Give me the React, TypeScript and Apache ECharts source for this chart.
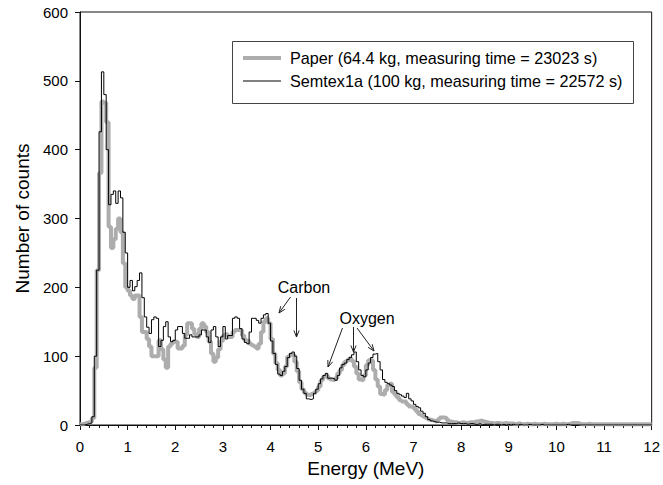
import React, { useEffect, useRef } from "react";
import * as echarts from "echarts";

// Energy spectrum, histogram bins of 0.05 MeV starting at 0 MeV
const binWidth = 0.05;
const xTicks = [0, 1, 2, 3, 4, 5, 6, 7, 8, 9, 10, 11, 12];
const yTicks = [0, 100, 200, 300, 400, 500, 600];

const paperCounts = [
  1, 2, 3, 4, 5, 10, 83, 225, 366, 470,
  468, 440, 288, 257, 270, 285, 300, 280, 235, 200,
  195, 188, 183, 188, 188, 157, 135, 135, 125, 114,
  100, 100, 100, 123, 110, 95, 83, 114, 118, 121,
  121, 111, 111, 115, 131, 148, 148, 140, 132, 128,
  140, 148, 143, 135, 121, 104, 92, 98, 110, 122,
  130, 132, 128, 128, 135, 138, 138, 138, 130, 123,
  122, 118, 116, 114, 111, 118, 135, 150, 155, 148,
  125, 104, 90, 80, 72, 75, 85, 99, 102, 102,
  92, 78, 62, 52, 47, 44, 43, 45, 47, 50,
  56, 65, 70, 72, 68, 66, 65, 68, 75, 80,
  87, 92, 94, 97, 93, 85, 75, 66, 65, 72,
  87, 94, 94, 80, 66, 56, 45, 44, 51, 58,
  60, 48, 44, 40, 36, 34, 34, 30, 27, 26,
  24, 20, 16, 14, 12, 10, 8, 7, 6, 5,
  8, 11, 11, 10, 7, 5, 4, 4, 3, 3,
  4, 3, 3, 4, 4, 3, 5, 6, 6, 5,
  4, 3, 3, 2, 3, 3, 2, 2, 3, 2,
  2, 2, 1, 2, 2, 1, 1, 2, 1, 1,
  2, 1, 1, 1, 2, 1, 1, 1, 1, 2,
  1, 1, 2, 1, 1, 2, 3, 3, 3, 2,
  1, 1, 1, 2, 1, 1, 1, 1, 1, 1,
  1, 1, 1, 1, 1, 1, 1, 1, 1, 1,
  1, 1, 1, 1, 1, 1, 1, 1, 1, 1,
];

const semtexCounts = [
  0, 0, 1, 2, 3, 12, 100, 225, 426, 513,
  480, 400, 320, 335, 340, 322, 340, 330, 280, 250,
  200, 210, 195, 201, 210, 221, 185, 157, 142, 133,
  153, 157, 155, 114, 123, 143, 150, 128, 121, 123,
  138, 143, 143, 133, 126, 126, 131, 128, 128, 128,
  131, 138, 138, 128, 120, 138, 143, 128, 114, 128,
  143, 125, 130, 130, 155, 157, 155, 140, 125, 120,
  118, 135, 155, 155, 152, 148, 155, 160, 162, 148,
  122, 104, 88, 74, 72, 78, 85, 98, 104, 106,
  100, 82, 65, 52, 46, 38, 37, 38, 46, 52,
  60, 67, 72, 75, 68, 68, 67, 65, 72, 83,
  88, 90, 95, 98, 102, 106, 92, 80, 72, 70,
  80, 90, 98, 103, 104, 92, 80, 66, 62, 60,
  58, 56, 50, 46, 44, 42, 40, 46, 38, 35,
  30, 27, 25, 20, 17, 12, 8, 6, 5, 4,
  4, 3, 3, 3, 2, 2, 2, 2, 3, 2,
  2, 2, 1, 2, 2, 1, 1, 2, 1, 1,
  1, 1, 1, 0, 1, 1, 0, 1, 0, 1,
  0, 1, 0, 0, 1, 0, 0, 0, 1, 0,
  0, 0, 0, 1, 0, 0, 0, 0, 0, 0,
  0, 0, 0, 0, 1, 0, 0, 0, 0, 0,
  0, 0, 0, 0, 0, 0, 0, 0, 0, 0,
  0, 0, 0, 0, 0, 0, 0, 0, 0, 0,
  0, 0, 0, 0, 0, 0, 0, 0, 0, 0,
];

const seriesNames = [
  "Paper (64.4 kg, measuring time = 23023 s)",
  "Semtex1a (100 kg, measuring time = 22572 s)",
];
const seriesColors = ["#adadad", "#000000"];
const seriesWidths = [4, 1];

const FONT = "'Liberation Sans', Arial, Helvetica, sans-serif";

function toSteps(counts: number[]) {
  const pts: [number, number][] = counts.map((c, i) => [+(i * binWidth).toFixed(3), c]);
  pts.push([+(counts.length * binWidth).toFixed(3), counts[counts.length - 1]]);
  return pts;
}

function arrow(x1: number, y1: number, x2: number, y2: number) {
  const ang = Math.atan2(y2 - y1, x2 - x1);
  const len = 7;
  const spread = 0.38;
  const a1 = ang + Math.PI - spread;
  const a2 = ang + Math.PI + spread;
  const style = { stroke: "#222", lineWidth: 1, fill: "none" };
  return [
    { type: "line", shape: { x1, y1, x2, y2 }, style, silent: true, z: 10 },
    {
      type: "polyline",
      shape: {
        points: [
          [x2 + len * Math.cos(a1), y2 + len * Math.sin(a1)],
          [x2, y2],
          [x2 + len * Math.cos(a2), y2 + len * Math.sin(a2)],
        ],
      },
      style,
      silent: true,
      z: 10,
    },
  ];
}

function legendGraphic() {
  const els: any[] = [
    {
      type: "rect",
      shape: { x: 232.5, y: 41.5, width: 401, height: 62 },
      style: { fill: "#fff", stroke: "#444", lineWidth: 1 },
      z: 20,
    },
  ];
  seriesNames.forEach((name, i) => {
    const y = 58 + i * 23;
    els.push({
      type: "line",
      shape: { x1: 243, y1: y, x2: 281, y2: y },
      style: { stroke: seriesColors[i], lineWidth: seriesWidths[i] },
      z: 21,
    });
    els.push({
      type: "text",
      x: 290,
      y,
      style: { text: name, font: `16.2px ${FONT}`, fill: "#000", align: "left", verticalAlign: "middle" },
      z: 21,
    });
  });
  return els;
}

export default function App() {
  const ref = useRef<HTMLDivElement>(null);
  useEffect(() => {
    document.body.style.margin = "0";
    const chart = echarts.init(ref.current!, undefined, { renderer: "svg" });
    const option: any = {
      animation: false,
      backgroundColor: "#fff",
      grid: {
        left: 80,
        right: 11,
        top: 12,
        bottom: 60,
        show: true,
        borderColor: "#111",
        borderWidth: 1,
      },
      xAxis: {
        type: "value",
        min: xTicks[0],
        max: xTicks[xTicks.length - 1],
        interval: 1,
        name: "Energy (MeV)",
        nameLocation: "middle",
        nameGap: 32,
        nameTextStyle: { fontSize: 19, fontFamily: FONT, color: "#000" },
        axisLine: { lineStyle: { color: "#111", width: 1 } },
        axisTick: { length: 5, lineStyle: { color: "#111" } },
        minorTick: { show: true, splitNumber: 5, length: 3, lineStyle: { color: "#111" } },
        splitLine: { show: false },
        axisLabel: { fontSize: 15, fontFamily: FONT, color: "#000", margin: 14 },
      },
      yAxis: {
        type: "value",
        min: yTicks[0],
        max: yTicks[yTicks.length - 1],
        interval: 100,
        name: "Number of counts",
        nameLocation: "middle",
        nameGap: 48,
        nameTextStyle: { fontSize: 19, fontFamily: FONT, color: "#000" },
        axisLine: { show: true, lineStyle: { color: "#111", width: 1 } },
        axisTick: { show: true, length: 5, lineStyle: { color: "#111" } },
        splitLine: { show: false },
        axisLabel: { fontSize: 15, fontFamily: FONT, color: "#000", margin: 12 },
      },
      series: [
        {
          name: seriesNames[0],
          type: "line",
          step: "end",
          symbol: "none",
          data: toSteps(paperCounts),
          lineStyle: { color: seriesColors[0], width: seriesWidths[0] },
          itemStyle: { color: seriesColors[0] },
          z: 2,
        },
        {
          name: seriesNames[1],
          type: "line",
          step: "end",
          symbol: "none",
          data: toSteps(semtexCounts),
          lineStyle: { color: seriesColors[1], width: seriesWidths[1] },
          itemStyle: { color: seriesColors[1] },
          z: 3,
        },
      ],
      graphic: [
        ...legendGraphic(),
        {
          type: "text",
          x: 304,
          y: 287,
          style: { text: "Carbon", font: `16px ${FONT}`, fill: "#000", align: "center", verticalAlign: "middle" },
          z: 10,
        },
        ...arrow(290.5, 297, 279, 313),
        ...arrow(296.5, 298, 296.5, 337),
        {
          type: "text",
          x: 367,
          y: 318,
          style: { text: "Oxygen", font: `16px ${FONT}`, fill: "#000", align: "center", verticalAlign: "middle" },
          z: 10,
        },
        ...arrow(342.5, 328, 328, 367),
        ...arrow(353.5, 327, 353.5, 352),
        ...arrow(357, 328, 374, 351),
      ],
    };
    chart.setOption(option);
    return () => chart.dispose();
  }, []);
  return <div ref={ref} style={{ width: 663, height: 485 }} />;
}
